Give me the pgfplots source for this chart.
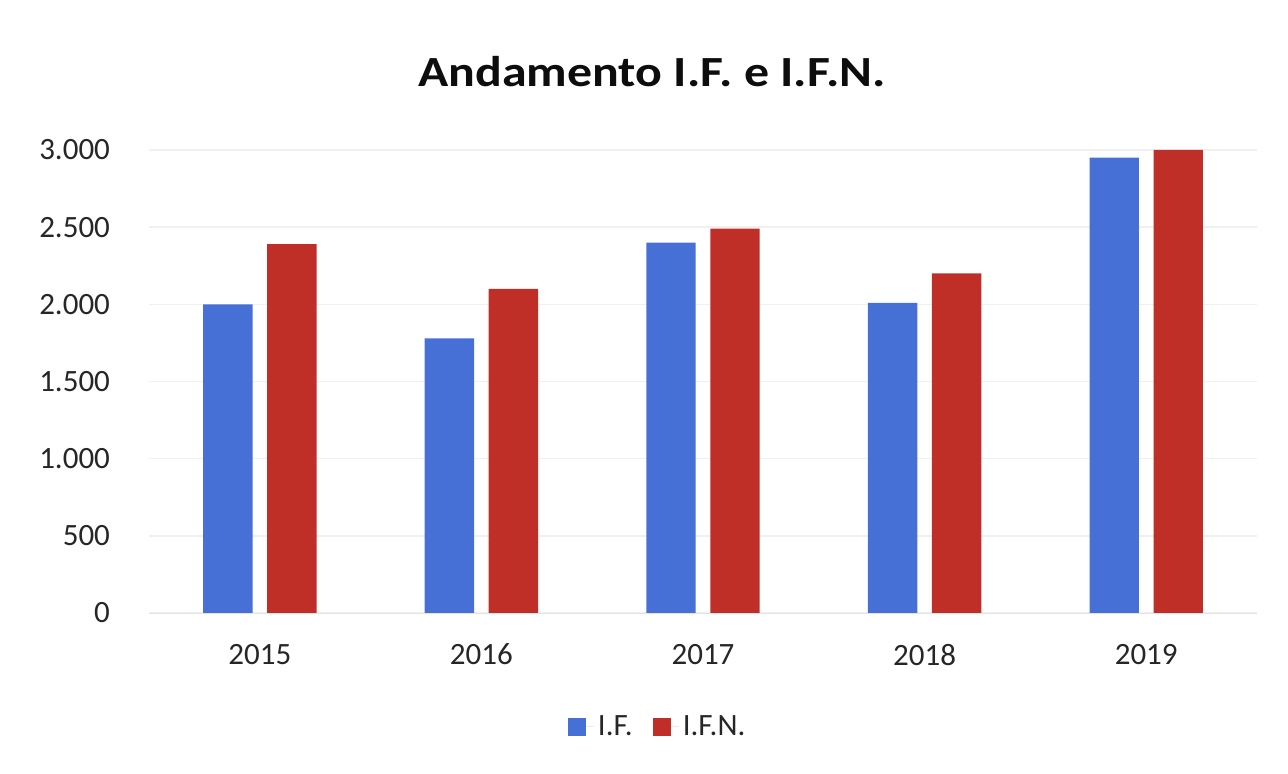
\documentclass[border=0pt]{standalone}
\usepackage{pgfplots}
\pgfplotsset{compat=1.18}
\usepackage{graphicx}
\usepackage{fontspec}
\setmainfont{Carlito}
\definecolor{ifblue}{RGB}{70,112,214}
\definecolor{ifnred}{RGB}{192,46,40}
\begin{document}
\begin{tikzpicture}
\path[use as bounding box] (0,0) rectangle (644pt,387pt);
\node[font=\bfseries\fontsize{21.5}{25}\selectfont, text=black!95] at (326pt,351pt) {\scalebox{1.16}[1]{Andamento I.F. e I.F.N.}};
\begin{axis}[
  at={(74.5pt,80.5pt)}, anchor=south west,
  scale only axis, width=554pt, height=231.5pt,
  ybar=7.3pt, bar width=24.7pt,
  xmin=-0.5, xmax=4.5, ymin=0, ymax=3000,
  xtick={0,1,2,3,4}, xticklabels={2015,2016,2017,2018,2019},
  ytick={0,500,1000,1500,2000,2500,3000},
  scaled y ticks=false,
  axis lines*=left,
  x axis line style={draw=gray!22},
  y axis line style={draw=none},
  ymajorgrids, grid style={draw=gray!12, line width=0.8pt},
  major tick length=0pt,
  tick label style={font=\fontsize{15.5}{18}\selectfont, text=black!85},
  yticklabel style={xshift=-16pt},
  xticklabel style={yshift=-12pt},
  /pgf/number format/assume math mode=true,
  /pgf/number format/1000 sep={.},
  legend style={at={(0.46,-0.246)}, anchor=center, draw=none, fill=none,
    legend columns=2, font=\fontsize{15.5}{18}\selectfont, text=black!85,
    /tikz/every even column/.append style={column sep=8pt}},
  legend image code/.code={\fill[#1] (0pt,-4.5pt) rectangle (9pt,4.5pt); \path (0pt,0pt) -- (13pt,0pt);},
]
\addplot[fill=ifblue, draw=none] coordinates {(0,2000) (1,1780) (2,2400) (3,2010) (4,2950)};
\addplot[fill=ifnred, draw=none] coordinates {(0,2390) (1,2100) (2,2490) (3,2200) (4,3000)};
\legend{I.F., I.F.N.}
\end{axis}
\end{tikzpicture}
\end{document}
